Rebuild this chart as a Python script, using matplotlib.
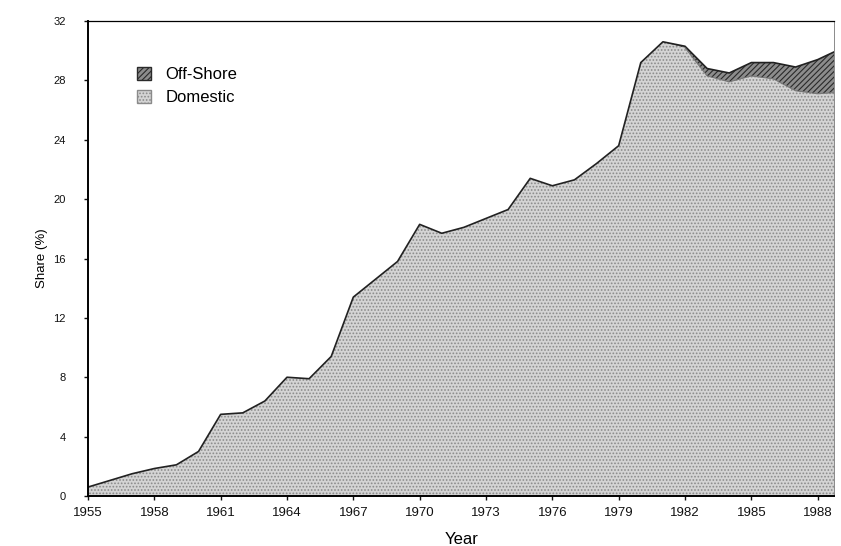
import numpy as np
import matplotlib
matplotlib.use("Agg")
import matplotlib.pyplot as plt
from matplotlib.patches import Patch

plt.rcParams['font.family'] = ['Liberation Sans', 'DejaVu Sans']
plt.rcParams['hatch.linewidth'] = 0.8

# share (%)
years = np.arange(1955, 1990)
domestic = [0.6, 1.05, 1.5, 1.85, 2.1, 3.0, 5.5, 5.6, 6.4, 8.0,
            7.9, 9.4, 13.4, 14.6, 15.8, 18.3, 17.7, 18.1, 18.7, 19.3,
            21.4, 20.9, 21.3, 22.4, 23.6, 29.2, 30.6, 30.2, 28.3, 27.9,
            28.3, 28.1, 27.3, 27.1, 27.2]
offshore = [0] * 27 + [0.1, 0.5, 0.6, 0.9, 1.1, 1.6, 2.3, 2.9]
yticks = [0, 4, 8, 12, 16, 20, 24, 28, 32]
xticks = [1955, 1958, 1961, 1964, 1967, 1970, 1973, 1976, 1979, 1982, 1985, 1988]

domestic = np.array(domestic)
total = domestic + np.array(offshore)

fig = plt.figure(figsize=(8.41, 5.46), dpi=100)
ax = fig.add_axes([0.1046, 0.0916, 0.8874, 0.8699])

ax.fill_between(years, 0, domestic, facecolor='#d4d4d4', edgecolor='#8a8a8a',
                hatch='.....', linewidth=0)
ax.fill_between(years, domestic, total, facecolor='#8c8c8c', edgecolor='#2a2a2a',
                hatch='//////', linewidth=0)
ax.plot(years, total, color='#222222', lw=1.2)
ax.plot(years[27:], domestic[27:], color='#777777', lw=0.8)

ax.set_xlim(1955, 1988.75)
ax.set_ylim(0, 32)
ax.set_xticks(xticks)
ax.set_yticks(yticks)
ax.tick_params(length=3, width=1, direction='out', colors='#111111')
ax.tick_params(axis='x', labelsize=9.5, pad=5)
ax.tick_params(axis='y', labelsize=8, pad=13)
ax.set_xlabel('Year', fontsize=12, labelpad=9)
ax.set_ylabel('Share (%)', fontsize=9.5, labelpad=4)

for side in ['left', 'bottom']:
    ax.spines[side].set_linewidth(1.4)
ax.spines['top'].set_linewidth(0.9)
ax.spines['right'].set_linewidth(0.6)
ax.spines['right'].set_color('#777777')

handles = [Patch(facecolor='#8c8c8c', edgecolor='#2a2a2a', hatch='//////', label='Off-Shore'),
           Patch(facecolor='#d4d4d4', edgecolor='#8a8a8a', hatch='.....', label='Domestic')]
ax.legend(handles=handles, loc='upper left', bbox_to_anchor=(0.045, 0.935), frameon=False,
          fontsize=12, handlelength=0.85, handleheight=0.85, handletextpad=0.9, labelspacing=0.45)

fig.savefig('out.png', dpi=100)
